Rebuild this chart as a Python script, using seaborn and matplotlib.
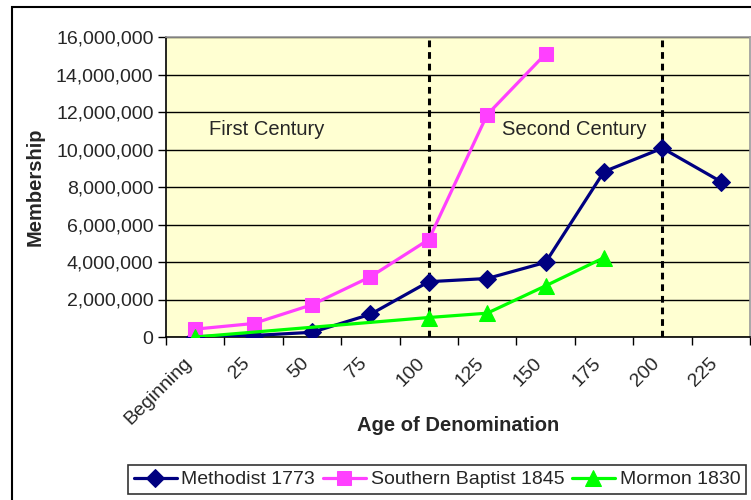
import numpy as np
import pandas as pd
import matplotlib
matplotlib.use("Agg")
import matplotlib.pyplot as plt
import seaborn as sns
from matplotlib.ticker import FuncFormatter, FixedLocator
from matplotlib.patches import Rectangle
from matplotlib.transforms import ScaledTranslation

categories = ["Beginning", "25", "50", "75", "100", "125", "150", "175", "200", "225"]
methodist = [20000, 80000, 250000, 1210000, 2950000, 3120000, 3980000, 8820000, 10070000, 8290000]
southern_baptist = [420000, 720000, 1720000, 3210000, 5200000, 11860000, 15100000, None, None, None]
mormon = [0, None, None, None, 1040000, 1270000, 2730000, 4230000, None, None]
series_names = ["Methodist 1773", "Southern Baptist 1845", "Mormon 1830"]
series_values = [methodist, southern_baptist, mormon]
century_marks = ["100", "200"]
y_ticks = [0, 2000000, 4000000, 6000000, 8000000, 10000000, 12000000, 14000000, 16000000]

rows = []
for name, vals in zip(series_names, series_values):
    for i, v in enumerate(vals):
        if v is not None:
            rows.append({"pos": i, "Age": categories[i], "Membership": v, "Series": name})
df = pd.DataFrame(rows)

sns.set_style("white")
plt.rcParams["font.family"] = ["Liberation Sans", "DejaVu Sans"]

fig = plt.figure(figsize=(7.51, 5.0), dpi=100)
ax = fig.add_axes([166/751, 1-337/500, (750-166)/751, 300/500])
ax.set_facecolor("#FFFFD2")

styles = {
    "Methodist 1773": dict(color="#000080", marker="D", markersize=9),
    "Southern Baptist 1845": dict(color="#FF40FF", marker="s", markersize=10),
    "Mormon 1830": dict(color="#00FF00", marker="^", markersize=11),
}
for name in series_names:
    sub = df[df["Series"] == name]
    st = styles[name]
    sns.lineplot(data=sub, x="pos", y="Membership", ax=ax, color=st["color"],
                 marker=st["marker"], markersize=st["markersize"],
                 markeredgecolor=st["color"], markerfacecolor=st["color"],
                 linewidth=2.3, label=name, legend=False, zorder=4)

ax.set_xlim(-0.5, len(categories) - 0.5)
ax.set_ylim(0, 16000000)

# grid
ax.yaxis.set_major_locator(FixedLocator(y_ticks))
ax.yaxis.grid(True, color="black", linewidth=1.0)
ax.xaxis.grid(False)
ax.set_axisbelow(True)
ax.yaxis.set_major_formatter(FuncFormatter(lambda v, p: f"{int(v):,}"))

# dashed century lines
for m in century_marks:
    ax.axvline(categories.index(m), color="black", linestyle=(0, (2.2, 1.6)), linewidth=2.2, zorder=3)

ax.text(0.24, 11050000, "First Century", fontsize=14.5, va="center", ha="left")
ax.text(5.26, 11050000, "Second Century", fontsize=14.5, va="center", ha="left")

# x ticks
ax.set_xticks(range(len(categories)))
ax.set_xticklabels(categories, rotation=45, ha="right", va="center", rotation_mode="anchor", fontsize=14)
ax.set_xticks(np.arange(-0.5, len(categories)), minor=True)
ax.tick_params(axis="x", which="major", length=0, pad=17)
ax.tick_params(axis="x", which="minor", length=6, width=1, color="black", direction="out", bottom=True)
ax.tick_params(axis="y", length=6, width=1, color="black", direction="out", left=True, labelsize=14, pad=3)
offset = ScaledTranslation(-6/100, 0, fig.dpi_scale_trans)
for lbl in ax.get_xticklabels():
    lbl.set_transform(lbl.get_transform() + offset)

for s in ["left", "bottom"]:
    ax.spines[s].set_color("black")
    ax.spines[s].set_linewidth(1.2)
for s in ["top", "right"]:
    ax.spines[s].set_color("#9a9a9a")
    ax.spines[s].set_linewidth(1.2)

ax.set_xlabel("Age of Denomination", fontsize=14.5, fontweight="bold")
ax.xaxis.set_label_coords(0.5, -0.263)
ax.set_ylabel("Membership", fontsize=14.5, fontweight="bold", labelpad=8)

handles, labels = ax.get_legend_handles_labels()
leg = fig.legend(handles, labels, loc="center", bbox_to_anchor=(437/751, 1-479.5/500), ncol=3,
                 frameon=True, fancybox=False, edgecolor="black", fontsize=14,
                 handlelength=2.2, handletextpad=0.25, columnspacing=0.4, borderpad=0.3)
leg.get_frame().set_linewidth(1.2)

# outer chart border
fig.patches.append(Rectangle((12/751, -0.2), 1.2, 1.2 - 7/500, transform=fig.transFigure,
                             fill=False, edgecolor="black", linewidth=1.5))

fig.savefig("out.png", dpi=100)
